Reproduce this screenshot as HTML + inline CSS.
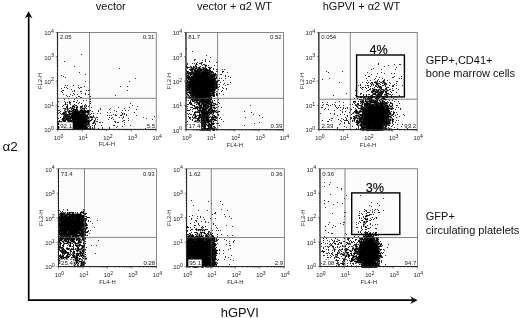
<!DOCTYPE html>
<html><head><meta charset="utf-8"><title>figure</title><style>html,body{margin:0;padding:0;background:#fff}body{width:520px;height:318px;overflow:hidden}</style></head><body><svg width="520" height="318" viewBox="0 0 520 318" style="display:block" font-family='"Liberation Sans", sans-serif'>
<rect width="520" height="318" fill="#fff"/>
<g id="P1">
<rect x="57.6" y="32.4" width="98.6" height="97.0" fill="#fcfcfc"/>
<path transform="translate(58 32.5)" d="M12 71h1M6 72h1M8 72h1M14 73h1M16 73h1M27 73h1M18 74h1M27 74h1M13 75h1M15 75h1M17 75h1M24 75h1M26 75h1M8 76h1M10 76h1M12 76h1M16 76h1M19 76h1M23 76h1M27 76h1M6 77h1M8 77h1M10 77h1M14 77h1M22 77h1M24 77h2M7 78h1M10 78h1M12 78h2M20 78h2M28 78h1M31 78h1M6 79h1M9 79h1M8 80h1M12 80h2M10 81h1M29 81h1M65 81h1M4 82h1M28 82h1M63 82h1M5 83h1M12 83h1M30 84h1M34 84h1M31 85h1M35 85h1M33 86h2M3 87h1M13 87h1M30 87h1M8 88h1M37 88h1M4 89h1M9 89h1M32 89h1M35 89h1M37 89h1M0 90h3M8 90h1M1 91h1M31 91h1M36 91h1M1 92h1M3 92h1M7 92h1M9 92h1M10 93h1M30 93h1M1 94h1M10 94h1M29 94h1M1 96h1M5 96h1M33 96h1M35 96h1M2 97h1M34 97h1" stroke="#000" stroke-width="1" fill="none" stroke-opacity="0.4"/>
<path transform="translate(58 32.5)" d="M23 22h1M6 29h1M16 34h1M61 36h1M21 40h1M27 42h1M3 43h1M5 44h1M7 45h1M77 46h1M27 49h1M71 49h1M31 50h1M7 53h1M9 53h1M15 53h1M20 53h1M62 54h1M69 54h1M8 55h1M20 55h1M22 55h2M3 56h1M9 56h1M21 56h1M13 57h1M31 57h1M4 58h2M16 58h1M28 58h1M30 58h1M69 58h1M3 59h1M14 59h1M16 59h1M22 59h2M4 60h1M15 61h1M23 61h1M5 62h1M12 62h1M16 62h1M19 62h1M27 62h1M8 63h1M14 63h1M57 63h1M9 64h1M11 64h1M20 64h2M31 64h2M18 65h1M22 65h2M10 66h1M6 67h1M16 67h1M32 67h1M19 68h1M25 68h1M28 68h1M0 69h1M6 69h1M11 69h1M15 69h2M32 69h1M7 70h1M9 70h1M18 70h1M21 70h1M11 71h1M20 71h1M32 71h1M72 71h1M9 72h1M12 72h1M16 72h1M27 72h1M5 73h1M9 73h1M17 73h2M24 73h1M26 73h1M28 73h1M74 73h1M0 74h1M4 74h1M8 74h1M22 74h1M24 74h1M26 74h1M28 74h1M30 74h1M79 74h1M16 75h1M27 75h1M33 75h1M60 75h1M71 75h1M5 76h3M11 76h1M22 76h1M28 76h1M42 76h1M52 76h1M66 76h1M7 77h1M13 77h1M17 77h1M42 77h1M51 77h1M78 77h1M0 78h2M6 78h1M9 78h1M16 78h1M18 78h1M25 78h1M27 78h1M32 78h1M40 78h1M56 78h1M64 78h1M67 78h1M70 78h1M2 79h1M8 79h1M14 79h1M23 79h1M31 79h1M40 79h1M58 79h1M1 80h1M11 80h1M15 80h1M49 80h1M52 80h1M63 80h1M76 80h1M0 81h1M2 81h1M7 81h2M22 81h1M27 81h1M33 81h1M35 81h1M39 81h1M42 81h1M64 81h1M3 82h1M6 82h1M8 82h1M13 82h1M29 82h2M32 82h1M55 82h1M57 82h1M64 82h1M66 82h1M68 82h1M10 83h2M35 83h1M49 83h1M51 83h1M53 83h1M57 83h2M62 83h1M68 83h1M78 83h1M5 84h1M32 84h1M35 84h1M65 84h1M96 84h1M2 85h1M9 85h1M11 85h1M29 85h1M36 85h1M38 85h2M51 85h1M54 85h1M61 85h1M65 85h1M85 85h1M7 86h1M13 86h1M37 86h1M64 86h1M70 86h1M88 86h1M6 87h1M10 87h3M29 87h1M33 87h2M37 87h1M39 87h1M50 87h1M55 87h1M94 87h1M1 88h1M10 88h1M14 88h1M33 88h1M65 88h2M70 88h1M0 89h1M3 89h1M38 89h2M56 89h2M64 89h1M31 90h1M41 90h2M44 90h1M57 90h1M59 90h2M66 90h1M2 91h1M4 91h1M11 91h1M29 91h1M34 91h2M37 91h1M2 92h1M4 92h2M12 92h1M37 92h1M66 92h1M9 93h1M28 93h2M31 93h1M34 93h1M36 93h1M43 93h1M55 93h2M72 93h1M5 94h1M12 94h1M30 94h1M32 94h1M36 94h1M59 94h1M64 94h1M2 95h1M6 95h1M32 95h1M34 95h1M36 95h1M44 95h1M51 95h1M58 95h1M0 96h1M6 96h1M30 96h1M34 96h1M36 96h1M40 96h1M44 96h1M51 96h1M87 96h1M4 97h1M35 97h1M37 97h1M39 97h2" stroke="#000" stroke-width="1" fill="none" stroke-opacity="0.8"/>
<path transform="translate(58 32.5)" d="M26 54h1M6 55h1M27 61h1M30 62h1M11 70h1M7 71h1M9 74h1M14 74h1M16 74h1M19 74h1M23 74h1M8 75h2M12 75h1M14 75h1M22 75h1M13 76h3M18 76h1M25 76h1M19 77h1M23 77h1M26 77h1M15 78h1M29 78h1M10 79h1M12 79h1M15 79h1M18 79h4M30 79h1M34 79h1M5 80h3M22 80h1M28 80h1M30 80h1M4 81h1M6 81h1M12 81h2M21 81h1M23 81h2M30 81h1M66 81h1M9 82h2M26 82h2M6 83h2M13 83h1M18 83h1M26 83h1M28 83h2M6 84h2M12 84h1M26 84h1M33 84h1M5 85h3M15 85h1M28 85h1M32 85h1M0 86h1M4 86h1M8 86h1M28 86h3M53 86h1M5 87h1M7 87h1M4 88h1M9 88h1M17 88h1M27 88h1M29 88h1M31 88h2M2 89h1M5 89h3M29 89h1M3 90h1M9 90h1M29 90h1M35 90h2M3 91h1M7 91h1M9 91h1M27 91h2M10 92h1M26 92h2M29 92h1M31 92h1M8 93h1M0 94h1M28 94h1M9 95h1M12 95h1M19 95h1M26 95h1M29 95h1M9 96h1M29 96h1M31 96h2M3 97h1M32 97h1" stroke="#000" stroke-width="1" fill="none" stroke-opacity="0.9"/>
<path transform="translate(58 32.5)" d="M12 70h1M23 71h1M7 72h1M15 73h1M15 74h1M18 75h2M23 75h1M9 76h1M24 76h1M26 76h1M9 77h1M15 77h2M18 77h1M11 78h1M14 78h1M17 78h1M19 78h1M22 78h3M26 78h1M30 78h1M7 79h1M11 79h1M13 79h1M16 79h2M22 79h1M24 79h6M10 80h1M14 80h1M16 80h6M23 80h5M29 80h1M5 81h1M11 81h1M14 81h7M25 81h2M5 82h1M7 82h1M11 82h2M14 82h12M8 83h2M14 83h4M19 83h7M27 83h1M63 83h1M8 84h4M13 84h13M27 84h3M8 85h1M10 85h1M12 85h3M16 85h12M30 85h1M33 85h2M5 86h2M9 86h4M14 86h14M4 87h1M8 87h2M14 87h15M5 88h3M11 88h3M15 88h2M18 88h9M28 88h1M30 88h1M36 88h1M1 89h1M10 89h19M30 89h2M36 89h1M10 90h19M30 90h1M0 91h1M8 91h1M10 91h1M12 91h15M30 91h1M0 92h1M8 92h1M11 92h1M13 92h13M28 92h1M30 92h1M11 93h17M11 94h1M13 94h15M0 95h2M10 95h2M13 95h6M20 95h6M27 95h2M7 96h2M10 96h19M0 97h2M5 97h27M33 97h1" stroke="#000" stroke-width="1" fill="none" stroke-opacity="1"/>
<rect x="57.6" y="32.4" width="98.6" height="97.0" fill="none" stroke="#555" stroke-width=".7"/>
<path d="M89.5 32.4V129.4M57.6 98.3H156.2" stroke="#555" stroke-width=".7" fill="none"/>
<path d="M57.60 129.4v2M57.6 129.40h-2M65.02 129.4v1M57.6 122.10h-1M69.36 129.4v1M57.6 117.83h-1M72.44 129.4v1M57.6 114.80h-1M74.83 129.4v1M57.6 112.45h-1M76.78 129.4v1M57.6 110.53h-1M78.43 129.4v1M57.6 108.91h-1M79.86 129.4v1M57.6 107.50h-1M81.12 129.4v1M57.6 106.26h-1M82.25 129.4v2M57.6 105.15h-2M89.67 129.4v1M57.6 97.85h-1M94.01 129.4v1M57.6 93.58h-1M97.09 129.4v1M57.6 90.55h-1M99.48 129.4v1M57.6 88.20h-1M101.43 129.4v1M57.6 86.28h-1M103.08 129.4v1M57.6 84.66h-1M104.51 129.4v1M57.6 83.25h-1M105.77 129.4v1M57.6 82.01h-1M106.90 129.4v2M57.6 80.90h-2M114.32 129.4v1M57.6 73.60h-1M118.66 129.4v1M57.6 69.33h-1M121.74 129.4v1M57.6 66.30h-1M124.13 129.4v1M57.6 63.95h-1M126.08 129.4v1M57.6 62.03h-1M127.73 129.4v1M57.6 60.41h-1M129.16 129.4v1M57.6 59.00h-1M130.42 129.4v1M57.6 57.76h-1M131.55 129.4v2M57.6 56.65h-2M138.97 129.4v1M57.6 49.35h-1M143.31 129.4v1M57.6 45.08h-1M146.39 129.4v1M57.6 42.05h-1M148.78 129.4v1M57.6 39.70h-1M150.73 129.4v1M57.6 37.78h-1M152.38 129.4v1M57.6 36.16h-1M153.81 129.4v1M57.6 34.75h-1M155.07 129.4v1M57.6 33.51h-1M156.20 129.4v2M57.6 32.40h-2" stroke="#333" stroke-width=".6" fill="none"/>
<path d="M57.6 32.4V129.4H156.2" stroke="#222" stroke-width="1" fill="none"/>
<text x="58.6" y="140.1" font-size="5.8" text-anchor="middle" fill="#222">10<tspan dy="-2.3" font-size="5.10">0</tspan></text>
<text x="53.9" y="132.2" font-size="6.0" text-anchor="end" fill="#222">10<tspan dy="-2.3" font-size="5.28">0</tspan></text>
<text x="83.2" y="140.1" font-size="5.8" text-anchor="middle" fill="#222">10<tspan dy="-2.3" font-size="5.10">1</tspan></text>
<text x="53.9" y="108.0" font-size="6.0" text-anchor="end" fill="#222">10<tspan dy="-2.3" font-size="5.28">1</tspan></text>
<text x="107.9" y="140.1" font-size="5.8" text-anchor="middle" fill="#222">10<tspan dy="-2.3" font-size="5.10">2</tspan></text>
<text x="53.9" y="83.7" font-size="6.0" text-anchor="end" fill="#222">10<tspan dy="-2.3" font-size="5.28">2</tspan></text>
<text x="132.5" y="140.1" font-size="5.8" text-anchor="middle" fill="#222">10<tspan dy="-2.3" font-size="5.10">3</tspan></text>
<text x="53.9" y="59.5" font-size="6.0" text-anchor="end" fill="#222">10<tspan dy="-2.3" font-size="5.28">3</tspan></text>
<text x="157.2" y="140.1" font-size="5.8" text-anchor="middle" fill="#222">10<tspan dy="-2.3" font-size="5.10">4</tspan></text>
<text x="53.9" y="35.2" font-size="6.0" text-anchor="end" fill="#222">10<tspan dy="-2.3" font-size="5.28">4</tspan></text>
<text x="106.9" y="146.4" font-size="5.9" text-anchor="middle" fill="#2a2a2a">FL4-H</text>
<text transform="translate(42.3 80.9) rotate(-90)" font-size="5.9" text-anchor="middle" fill="#2a2a2a">FL2-H</text>
<text x="59.9" y="39.4" font-size="6.0" fill="#222">2.05</text>
<text x="154.4" y="39.4" font-size="6.0" fill="#222" text-anchor="end">0.31</text>
<rect x="59.4" y="122.3" width="13.3" height="6.5" fill="#fff"/>
<text x="60.2" y="128.0" font-size="6.1" fill="#222">92.1</text>
<text x="155.0" y="127.9" font-size="6.0" fill="#222" text-anchor="end">5.5</text>
</g>
<g id="P2">
<rect x="186.0" y="32.4" width="97.5" height="97.3" fill="#fcfcfc"/>
<path transform="translate(186 32.5)" d="M9 32h1M11 32h1M19 32h1M10 33h1M18 33h1M1 34h1M5 34h1M8 34h1M13 34h1M20 34h1M4 35h1M6 35h1M9 35h1M11 35h1M14 35h1M18 35h1M24 35h1M4 36h1M8 36h1M11 36h1M15 36h2M10 37h1M22 37h1M24 37h1M7 38h1M31 38h1M7 39h1M26 41h1M28 41h1M1 42h1M3 42h1M3 43h1M5 43h2M30 43h1M4 44h1M29 44h1M29 45h1M1 47h1M2 48h1M30 48h1M0 49h1M32 49h1M31 51h1M32 52h1M29 58h1M1 59h2M29 60h1M1 61h1M28 61h1M0 62h1M2 62h1M1 63h1M3 63h1M1 64h2M4 64h1M25 64h2M1 65h1M4 67h1M5 68h1M25 68h1M9 69h1M12 69h1M25 69h1M5 70h1M8 70h1M27 70h1M10 71h1M14 71h1M26 71h1M6 72h1M11 72h1M14 72h1M26 72h3M12 73h1M16 73h1M23 73h1M9 74h1M12 74h1M16 74h1M26 74h3M8 75h1M23 75h1M26 75h1M29 75h1M12 76h1M22 76h1M26 76h2M9 77h1M12 77h1M15 77h1M21 77h1M28 77h1M11 78h1M21 78h1M29 78h1M10 79h1M30 79h2M14 80h1M28 80h2M32 80h1M9 81h1M14 81h1M26 81h1M31 81h1M24 82h2M27 82h1M8 83h1M10 83h1M23 83h1M26 83h1M8 84h1M12 84h1M23 84h1M25 84h1M27 84h1M30 84h1M7 85h1M10 85h1M24 85h1M4 86h1M8 86h1M14 86h1M23 86h1M28 86h2M13 87h2M23 87h1M10 88h1M14 88h1M26 88h2M11 89h2M14 89h1M26 89h1M9 90h2M13 90h1M23 90h2M26 90h2M11 91h1M20 91h2M24 91h1M7 92h1M9 92h2M12 92h2M21 92h1M8 93h1M10 93h1M14 93h1M20 93h1M26 93h1M7 94h1M11 94h1M21 94h1M26 94h1M8 95h1M11 95h1M13 95h1M16 95h1M26 95h2M7 96h1M10 96h1M29 96h2M9 97h1M10 98h1M13 98h3M19 98h1M24 98h1M26 98h1M30 98h1" stroke="#000" stroke-width="1" fill="none" stroke-opacity="0.4"/>
<path transform="translate(186 32.5)" d="M0 16h1M6 19h1M20 23h1M24 25h1M8 27h2M19 27h1M8 28h1M16 28h1M19 28h1M19 29h1M23 29h1M11 30h1M15 30h2M30 30h1M1 31h1M6 31h1M8 31h1M13 31h2M1 32h1M15 32h1M17 32h2M0 33h1M9 33h1M16 33h1M22 33h1M28 33h1M7 34h1M14 34h1M2 35h2M8 35h1M16 35h2M22 35h1M25 35h1M1 36h1M12 36h1M14 36h1M24 36h1M27 36h1M3 37h1M9 37h1M27 37h1M30 37h1M36 37h1M38 37h1M0 38h1M12 38h1M16 38h1M2 39h1M5 39h1M15 39h1M22 39h1M30 39h1M2 40h1M4 40h1M8 40h1M24 40h1M27 40h1M36 40h1M41 40h1M1 41h1M6 41h1M24 41h2M24 42h1M30 42h1M34 42h2M1 43h2M23 43h1M31 43h1M39 43h1M30 44h1M39 44h1M42 44h1M27 45h1M44 45h1M1 46h1M3 46h1M33 46h1M35 46h1M39 46h1M3 48h1M32 48h2M37 48h1M2 49h1M28 49h1M34 50h1M44 50h1M1 51h2M38 51h1M1 52h1M29 52h1M33 52h1M37 52h1M41 52h2M31 53h1M39 53h1M1 54h1M31 54h1M33 54h1M36 55h1M1 56h1M4 56h1M29 56h1M31 56h1M37 56h1M40 56h1M32 57h1M40 57h1M3 58h2M36 58h1M28 59h1M30 59h1M35 59h1M25 60h1M3 61h1M30 61h2M33 61h1M25 62h2M37 62h1M30 63h2M8 64h1M28 64h1M2 65h1M8 65h1M21 65h1M23 65h1M5 66h1M8 66h1M28 66h1M13 67h1M18 67h1M23 67h1M32 67h1M0 68h1M2 68h1M4 68h1M7 68h1M14 68h1M24 68h1M26 68h1M28 68h1M11 69h1M9 70h1M12 70h1M14 70h2M32 70h1M8 71h1M18 71h1M24 71h1M27 71h3M33 71h1M1 72h2M10 72h1M16 72h1M21 72h1M30 72h2M6 73h1M22 73h1M64 73h1M0 74h2M8 74h1M10 74h1M20 74h1M32 74h1M4 75h3M13 75h1M16 75h1M24 75h1M30 75h1M35 75h1M1 76h1M7 76h1M10 76h1M15 76h1M18 76h1M29 76h1M4 77h1M6 77h1M13 77h1M14 78h1M19 78h1M24 78h1M30 78h1M6 79h1M9 79h1M11 79h2M19 79h1M25 79h1M32 79h1M58 79h1M10 80h1M26 80h1M65 80h1M1 81h1M3 81h1M15 81h1M2 82h1M4 82h2M7 82h1M9 82h1M15 82h1M22 82h1M26 82h1M67 82h1M7 83h1M11 83h1M15 83h1M27 83h2M32 83h1M73 83h1M2 84h1M6 84h1M14 84h1M24 84h1M6 85h1M31 85h1M34 85h1M59 85h1M76 85h1M3 86h1M7 86h1M9 86h2M18 86h1M25 86h1M30 86h1M33 86h1M4 87h1M6 87h1M16 87h1M19 87h1M6 88h1M9 88h1M23 88h1M30 88h1M1 89h1M10 89h1M13 89h1M17 89h1M20 89h1M37 89h1M11 90h1M16 90h1M73 90h1M6 91h2M28 91h1M30 91h3M68 91h1M1 92h1M15 92h1M17 92h1M22 92h1M3 93h1M9 93h1M13 93h1M23 93h1M33 93h1M58 93h1M4 94h1M6 94h1M8 94h1M17 94h1M27 94h2M7 95h1M19 95h1M23 95h1M28 95h2M8 96h1M14 96h1M16 96h1M24 96h1M28 96h1M33 97h1M16 98h3M20 98h4M27 98h2" stroke="#000" stroke-width="1" fill="none" stroke-opacity="0.8"/>
<path transform="translate(186 32.5)" d="M10 31h1M15 31h1M4 34h1M9 34h2M19 34h1M0 35h2M7 35h1M12 35h1M19 35h1M5 36h1M9 36h1M17 36h1M19 36h2M23 36h1M6 37h2M11 37h1M13 37h1M16 37h1M18 37h2M21 37h1M23 37h1M31 37h1M4 38h2M8 38h1M10 38h1M13 38h1M15 38h1M17 38h1M22 38h3M0 39h2M6 39h1M8 39h1M14 39h1M16 39h1M20 39h2M23 39h1M25 39h2M31 39h1M36 39h1M0 40h1M6 40h1M11 40h1M14 40h1M26 40h1M0 41h1M3 41h3M7 41h1M14 41h1M27 41h1M2 42h1M6 42h2M26 42h1M29 42h1M4 43h1M22 43h1M26 43h2M29 43h1M1 44h3M4 45h1M28 45h1M4 46h1M8 46h1M29 46h2M0 47h1M3 47h1M29 47h1M0 48h2M4 48h1M29 48h1M31 48h1M4 49h1M29 49h2M1 50h1M29 50h2M29 51h2M2 52h1M0 53h1M28 53h2M2 54h1M27 54h1M29 54h1M1 55h1M29 55h1M32 55h1M2 56h1M0 57h1M29 57h1M1 58h2M5 58h1M4 59h2M27 59h1M1 60h2M5 60h1M24 60h1M5 61h1M25 61h1M4 62h3M27 62h2M30 62h2M4 63h2M9 63h1M28 63h1M3 64h1M5 64h2M27 64h1M3 65h1M5 65h2M19 65h2M24 65h2M3 66h2M7 66h1M14 66h1M24 66h2M6 67h2M10 67h2M15 67h1M19 67h1M25 67h1M9 68h1M20 68h1M23 68h1M4 69h1M6 69h1M8 69h1M10 69h1M13 69h1M17 69h1M23 69h1M26 69h1M3 70h1M10 70h1M16 70h1M18 70h1M25 70h1M3 71h3M15 71h1M17 71h1M19 71h2M23 71h1M25 71h1M4 72h1M12 72h2M15 72h1M20 72h1M22 72h3M29 72h1M7 73h1M15 73h1M24 73h2M11 74h1M13 74h3M18 74h1M21 74h1M23 74h1M25 74h1M9 75h3M18 75h5M25 75h1M8 76h1M14 76h1M17 76h1M20 76h2M28 76h1M11 77h1M14 77h1M16 77h1M19 77h1M22 77h1M24 77h3M1 78h2M20 78h1M27 78h1M13 79h3M17 79h1M21 79h3M27 79h2M33 79h1M9 80h1M11 80h2M21 80h1M24 80h2M8 81h1M13 81h1M23 81h1M8 82h1M13 82h1M19 82h1M32 82h1M9 83h1M12 83h1M17 83h1M19 83h4M10 84h1M13 84h1M16 84h2M19 84h1M22 84h1M28 84h1M3 85h1M9 85h1M12 85h6M19 85h1M22 85h1M26 85h1M28 85h1M30 85h1M11 86h1M13 86h1M15 86h1M22 86h1M26 86h2M11 87h1M20 87h1M24 87h1M28 87h2M35 87h1M11 88h1M13 88h1M19 88h1M24 88h2M28 88h2M9 89h1M15 89h2M19 89h1M24 89h1M27 89h1M12 90h1M19 90h2M12 91h1M14 91h1M18 91h1M22 91h1M25 91h2M11 92h1M16 92h1M19 92h1M24 92h1M26 92h2M6 93h1M12 93h1M16 93h2M19 93h1M25 93h1M9 94h2M14 94h3M23 94h2M9 95h2M15 95h1M17 95h1M22 95h1M12 96h2M15 96h1M17 96h1M20 96h1M25 96h3M8 97h1M12 97h1M29 97h1M31 97h1" stroke="#000" stroke-width="1" fill="none" stroke-opacity="0.9"/>
<path transform="translate(186 32.5)" d="M10 32h1M19 33h2M0 34h1M5 35h1M10 35h1M13 35h1M23 35h1M6 36h2M10 36h1M13 36h1M18 36h1M4 37h2M8 37h1M12 37h1M14 37h2M17 37h1M20 37h1M6 38h1M9 38h1M11 38h1M14 38h1M18 38h4M9 39h5M17 39h3M24 39h1M37 39h1M1 40h1M3 40h1M5 40h1M7 40h1M9 40h2M12 40h2M15 40h9M25 40h1M2 41h1M8 41h6M15 41h9M29 41h1M0 42h1M4 42h2M8 42h16M25 42h1M27 42h2M0 43h1M7 43h15M24 43h2M28 43h1M0 44h1M5 44h24M0 45h4M5 45h22M30 45h1M0 46h1M2 46h1M5 46h3M9 46h20M2 47h1M4 47h25M5 48h24M1 49h1M3 49h1M5 49h23M31 49h1M0 50h1M2 50h27M31 50h1M0 51h1M3 51h26M0 52h1M3 52h26M30 52h2M1 53h27M30 53h1M0 54h1M3 54h24M28 54h1M30 54h1M0 55h1M2 55h27M30 55h2M0 56h1M3 56h1M5 56h24M30 56h1M1 57h28M0 58h1M6 58h23M0 59h1M3 59h1M6 59h21M0 60h1M3 60h2M6 60h18M26 60h3M0 61h1M4 61h1M6 61h19M26 61h2M1 62h1M7 62h18M2 63h1M6 63h3M10 63h18M0 64h1M7 64h1M9 64h16M0 65h1M4 65h1M7 65h1M9 65h10M22 65h1M6 66h1M9 66h5M15 66h9M5 67h1M8 67h2M12 67h1M14 67h1M16 67h2M20 67h3M24 67h1M6 68h1M8 68h1M10 68h4M15 68h5M21 68h2M7 69h1M14 69h3M18 69h5M24 69h1M4 70h1M11 70h1M13 70h1M17 70h1M19 70h6M26 70h1M11 71h3M16 71h1M21 71h2M5 72h1M17 72h3M25 72h1M8 73h1M13 73h2M17 73h5M26 73h3M17 74h1M19 74h1M22 74h1M24 74h1M12 75h1M14 75h2M17 75h1M27 75h2M9 76h1M11 76h1M13 76h1M16 76h1M19 76h1M23 76h3M17 77h2M20 77h1M23 77h1M3 78h1M12 78h2M15 78h4M22 78h2M25 78h2M28 78h1M16 79h1M18 79h1M20 79h1M24 79h1M26 79h1M29 79h1M8 80h1M13 80h1M15 80h6M22 80h2M27 80h1M30 80h2M16 81h7M24 81h2M27 81h1M14 82h1M16 82h3M20 82h2M23 82h1M31 82h1M13 83h2M16 83h1M18 83h1M9 84h1M15 84h1M18 84h1M20 84h2M26 84h1M29 84h1M4 85h1M8 85h1M18 85h1M20 85h2M23 85h1M25 85h1M27 85h1M29 85h1M12 86h1M16 86h2M19 86h3M12 87h1M15 87h1M17 87h2M21 87h2M25 87h3M12 88h1M15 88h4M20 88h3M8 89h1M18 89h1M21 89h3M25 89h1M14 90h2M17 90h2M21 90h2M25 90h1M9 91h2M13 91h1M15 91h3M19 91h1M23 91h1M27 91h1M14 92h1M18 92h1M20 92h1M23 92h1M25 92h1M7 93h1M11 93h1M15 93h1M18 93h1M21 93h2M24 93h1M18 94h2M22 94h1M25 94h1M14 95h1M18 95h1M24 95h2M11 96h1M18 96h2M21 96h3M7 97h1M10 97h2M13 97h16M30 97h1" stroke="#000" stroke-width="1" fill="none" stroke-opacity="1"/>
<rect x="186.0" y="32.4" width="97.5" height="97.3" fill="none" stroke="#555" stroke-width=".7"/>
<path d="M217.6 32.4V129.7M186.0 98.3H283.5" stroke="#555" stroke-width=".7" fill="none"/>
<path d="M186.00 129.7v2M186.0 129.70h-2M193.34 129.7v1M186.0 122.38h-1M197.63 129.7v1M186.0 118.09h-1M200.68 129.7v1M186.0 115.05h-1M203.04 129.7v1M186.0 112.70h-1M204.97 129.7v1M186.0 110.77h-1M206.60 129.7v1M186.0 109.14h-1M208.01 129.7v1M186.0 107.73h-1M209.26 129.7v1M186.0 106.49h-1M210.38 129.7v2M186.0 105.38h-2M217.71 129.7v1M186.0 98.05h-1M222.00 129.7v1M186.0 93.77h-1M225.05 129.7v1M186.0 90.73h-1M227.41 129.7v1M186.0 88.37h-1M229.34 129.7v1M186.0 86.45h-1M230.97 129.7v1M186.0 84.82h-1M232.39 129.7v1M186.0 83.41h-1M233.63 129.7v1M186.0 82.16h-1M234.75 129.7v2M186.0 81.05h-2M242.09 129.7v1M186.0 73.73h-1M246.38 129.7v1M186.0 69.44h-1M249.43 129.7v1M186.0 66.40h-1M251.79 129.7v1M186.0 64.05h-1M253.72 129.7v1M186.0 62.12h-1M255.35 129.7v1M186.0 60.49h-1M256.76 129.7v1M186.0 59.08h-1M258.01 129.7v1M186.0 57.84h-1M259.12 129.7v2M186.0 56.72h-2M266.46 129.7v1M186.0 49.40h-1M270.75 129.7v1M186.0 45.12h-1M273.80 129.7v1M186.0 42.08h-1M276.16 129.7v1M186.0 39.72h-1M278.09 129.7v1M186.0 37.80h-1M279.72 129.7v1M186.0 36.17h-1M281.14 129.7v1M186.0 34.76h-1M282.38 129.7v1M186.0 33.51h-1M283.50 129.7v2M186.0 32.40h-2" stroke="#333" stroke-width=".6" fill="none"/>
<path d="M186.0 32.4V129.7H283.5" stroke="#222" stroke-width="1" fill="none"/>
<text x="187.0" y="140.4" font-size="5.8" text-anchor="middle" fill="#222">10<tspan dy="-2.3" font-size="5.10">0</tspan></text>
<text x="182.3" y="132.5" font-size="6.0" text-anchor="end" fill="#222">10<tspan dy="-2.3" font-size="5.28">0</tspan></text>
<text x="211.4" y="140.4" font-size="5.8" text-anchor="middle" fill="#222">10<tspan dy="-2.3" font-size="5.10">1</tspan></text>
<text x="182.3" y="108.2" font-size="6.0" text-anchor="end" fill="#222">10<tspan dy="-2.3" font-size="5.28">1</tspan></text>
<text x="235.8" y="140.4" font-size="5.8" text-anchor="middle" fill="#222">10<tspan dy="-2.3" font-size="5.10">2</tspan></text>
<text x="182.3" y="83.8" font-size="6.0" text-anchor="end" fill="#222">10<tspan dy="-2.3" font-size="5.28">2</tspan></text>
<text x="260.1" y="140.4" font-size="5.8" text-anchor="middle" fill="#222">10<tspan dy="-2.3" font-size="5.10">3</tspan></text>
<text x="182.3" y="59.5" font-size="6.0" text-anchor="end" fill="#222">10<tspan dy="-2.3" font-size="5.28">3</tspan></text>
<text x="284.5" y="140.4" font-size="5.8" text-anchor="middle" fill="#222">10<tspan dy="-2.3" font-size="5.10">4</tspan></text>
<text x="182.3" y="35.2" font-size="6.0" text-anchor="end" fill="#222">10<tspan dy="-2.3" font-size="5.28">4</tspan></text>
<text x="234.8" y="146.7" font-size="5.9" text-anchor="middle" fill="#2a2a2a">FL4-H</text>
<text transform="translate(170.7 81.0) rotate(-90)" font-size="5.9" text-anchor="middle" fill="#2a2a2a">FL2-H</text>
<text x="188.3" y="39.4" font-size="6.0" fill="#222">81.7</text>
<text x="281.7" y="39.4" font-size="6.0" fill="#222" text-anchor="end">0.52</text>
<rect x="187.8" y="122.6" width="13.3" height="6.5" fill="#fff"/>
<text x="188.6" y="128.3" font-size="6.1" fill="#222">17.4</text>
<text x="282.3" y="128.2" font-size="6.0" fill="#222" text-anchor="end">0.39</text>
</g>
<g id="P3">
<rect x="318.9" y="32.4" width="98.3" height="97.2" fill="#fcfcfc"/>
<path transform="translate(319 32.5)" d="M57 49h1M65 49h1M58 50h1M63 50h1M66 50h1M52 51h1M56 51h1M64 51h1M53 52h1M59 52h1M57 53h2M60 53h1M65 53h1M49 54h1M58 54h1M62 54h1M59 55h1M54 56h2M60 56h1M53 57h1M58 57h1M61 57h1M65 57h1M68 57h1M56 58h1M60 58h1M62 58h2M66 58h2M60 59h1M65 59h1M68 59h1M54 60h2M53 61h1M57 61h2M66 61h1M57 62h1M63 62h1M68 62h2M51 63h1M56 63h1M65 63h2M42 64h1M50 64h1M54 64h1M61 64h1M67 64h2M44 65h1M46 65h1M50 65h1M54 65h1M56 65h1M63 65h1M65 65h1M45 66h1M47 66h1M53 66h1M60 66h1M66 66h1M43 67h1M54 67h1M56 67h1M59 67h2M63 67h1M41 68h2M47 68h3M59 68h1M61 68h2M64 68h1M66 68h1M45 69h1M60 69h1M62 69h1M35 70h1M41 70h1M45 70h2M49 70h1M60 70h1M68 70h1M72 70h1M42 71h1M44 71h1M52 71h3M37 72h1M42 72h1M44 72h1M68 72h1M38 73h1M43 73h1M69 73h1M71 73h2M41 74h1M44 74h1M70 74h1M73 74h1M39 75h1M41 75h1M70 75h3M31 77h1M36 77h1M41 77h1M70 77h2M73 77h1M38 78h1M40 78h1M42 78h1M39 79h1M71 79h1M35 80h1M41 80h2M36 81h1M40 81h1M72 81h1M75 81h1M37 82h3M72 82h1M40 83h1M70 83h2M36 84h1M38 84h1M41 84h1M72 84h1M34 85h1M38 85h2M70 85h1M37 86h1M70 86h3M34 87h1M36 87h1M38 87h2M72 87h1M34 88h1M39 88h1M72 88h1M74 88h1M71 89h1M36 90h1M71 90h1M37 91h1M40 91h2M39 92h2M70 92h1M40 93h1M68 93h1M41 94h1M65 94h1M67 95h1M68 96h2M71 96h2M42 98h1M45 98h2M64 98h2M67 98h1M69 98h2M72 98h1" stroke="#000" stroke-width="1" fill="none" stroke-opacity="0.4"/>
<path transform="translate(319 32.5)" d="M59 31h1M59 32h1M75 32h1M80 32h2M69 33h1M65 34h1M77 35h1M54 36h1M52 37h1M62 37h1M76 37h1M7 39h1M23 39h1M9 40h1M48 40h1M62 40h1M58 41h1M65 41h1M72 41h1M75 41h1M52 42h1M46 43h1M49 44h2M57 44h1M75 44h1M82 44h1M60 45h1M73 45h2M10 46h1M47 46h1M56 46h1M63 46h1M80 46h1M82 46h1M3 47h1M55 47h1M59 47h1M65 47h1M48 48h1M51 48h1M58 48h1M64 48h2M68 48h1M56 49h1M58 49h1M60 49h1M63 49h1M77 49h2M20 50h1M43 50h1M47 50h1M49 50h1M52 50h2M55 50h1M61 50h2M70 50h1M48 51h1M51 51h1M53 51h1M59 51h2M63 51h1M67 51h1M71 51h1M77 51h1M41 52h1M52 52h1M54 52h1M61 52h1M67 52h1M75 52h1M39 53h1M41 53h1M46 53h1M49 53h1M52 53h1M54 53h1M56 53h1M63 53h2M66 53h1M70 53h1M73 53h2M77 53h1M83 53h1M85 53h1M51 54h1M56 54h2M66 54h1M73 54h2M41 55h1M43 55h2M55 55h1M58 55h1M67 55h3M42 56h1M47 56h1M51 56h1M66 56h1M73 56h1M77 56h1M43 57h1M50 57h2M60 57h1M62 57h3M66 57h1M70 57h2M79 57h1M36 58h1M48 58h2M53 58h1M61 58h1M65 58h1M69 58h1M73 58h2M47 59h1M57 59h1M71 59h1M56 60h1M64 60h1M72 60h1M77 60h1M27 61h1M41 61h2M60 61h1M41 62h1M44 62h1M47 62h1M49 62h2M53 62h1M70 62h2M73 62h1M14 63h1M36 63h1M44 63h1M60 63h1M72 63h1M80 63h1M37 64h2M43 64h1M47 64h1M49 64h1M55 64h1M62 64h2M66 64h1M72 64h1M76 64h1M42 65h1M52 65h1M55 65h1M67 65h2M72 65h1M35 66h1M38 66h1M44 66h1M46 66h1M62 66h1M74 66h1M42 67h1M44 67h1M61 67h1M76 67h2M55 68h1M57 68h1M70 68h1M73 68h1M20 69h1M39 69h1M53 69h1M65 69h1M68 69h1M75 69h1M79 69h1M3 70h1M8 70h1M16 70h1M24 70h1M34 70h1M36 70h1M61 70h1M64 70h1M69 70h1M35 71h1M38 71h2M41 71h1M58 71h1M65 71h1M68 71h1M73 71h1M80 71h1M4 72h1M7 72h2M13 72h1M15 72h1M31 72h1M33 72h1M36 72h1M52 72h1M55 72h1M59 72h1M64 72h1M66 72h2M70 72h1M3 73h1M11 73h1M16 73h1M20 73h1M24 73h1M36 73h1M39 73h3M49 73h1M56 73h1M60 73h1M64 73h2M77 73h2M16 74h1M37 74h2M46 74h1M2 75h2M17 75h1M19 75h1M21 75h1M24 75h1M28 75h1M38 75h1M43 75h1M66 75h1M73 75h1M77 75h1M79 75h1M6 76h1M18 76h1M24 76h1M26 76h1M28 76h1M31 76h1M36 76h1M74 76h1M81 76h1M5 77h1M9 77h1M23 77h1M37 77h1M48 77h1M65 77h1M76 77h1M15 78h1M21 78h1M31 78h1M23 79h1M26 79h1M72 79h1M74 79h1M23 80h1M30 80h1M34 80h1M44 80h1M77 80h1M1 81h1M15 81h1M33 81h2M69 81h1M15 82h1M21 82h1M25 82h1M32 82h1M73 82h2M78 82h1M84 82h1M18 83h1M36 83h1M67 83h1M72 83h2M76 83h1M85 83h1M28 84h1M34 84h1M42 84h1M44 84h1M74 84h1M80 84h1M26 85h1M31 85h2M40 85h1M44 85h1M72 85h1M77 85h1M12 86h2M22 86h1M27 86h1M32 86h1M34 86h1M39 86h1M69 86h1M73 86h1M10 87h1M24 87h1M27 87h1M31 87h1M3 88h1M12 88h1M21 88h1M25 88h2M28 88h1M37 88h1M43 88h1M66 88h1M68 88h1M70 88h1M77 88h1M79 88h1M8 89h2M22 89h1M29 89h1M33 89h1M35 89h1M43 89h1M74 89h1M29 90h1M41 90h1M69 90h1M73 90h1M76 90h1M3 91h1M21 91h1M25 91h1M29 91h2M71 91h1M73 91h1M2 92h1M8 92h1M20 92h1M37 92h1M66 92h1M74 92h1M78 92h1M7 93h1M13 93h1M38 93h2M43 93h1M69 93h2M73 93h1M11 94h1M25 94h1M33 94h1M39 94h1M72 94h1M82 94h1M4 95h1M14 95h1M18 95h1M27 95h1M39 95h1M64 95h2M69 95h1M75 95h1M13 96h1M18 96h1M37 96h1M39 96h1M41 96h2M45 96h2M64 96h2M78 96h1M88 96h1M24 97h1M27 97h1M33 97h2M39 97h1M41 97h1M43 98h2M47 98h5M60 98h4" stroke="#000" stroke-width="1" fill="none" stroke-opacity="0.8"/>
<path transform="translate(319 32.5)" d="M64 49h1M56 50h2M64 50h1M58 51h1M65 51h2M57 52h2M65 52h2M48 53h1M59 54h2M46 55h1M49 55h1M61 55h1M53 56h1M61 56h2M67 56h1M54 57h1M56 57h1M59 57h1M67 57h1M55 58h1M57 58h2M64 58h1M52 59h1M55 59h1M59 59h1M61 59h4M66 59h1M52 60h1M58 60h2M61 60h1M63 60h1M66 60h2M54 61h3M59 61h1M61 61h3M67 61h2M54 62h2M58 62h1M61 62h1M65 62h1M67 62h1M52 63h2M57 63h3M61 63h2M67 63h1M52 64h1M57 64h3M64 64h1M41 65h1M49 65h1M51 65h1M58 65h1M64 65h1M48 66h1M50 66h1M56 66h1M58 66h1M63 66h1M40 67h2M46 67h1M48 67h1M50 67h2M53 67h1M62 67h1M64 67h2M67 67h1M69 67h1M43 68h2M46 68h1M51 68h1M53 68h1M58 68h1M34 69h1M36 69h1M42 69h1M44 69h1M47 69h4M54 69h1M57 69h2M63 69h2M42 70h2M47 70h2M50 70h1M55 70h1M57 70h3M62 70h1M65 70h2M43 71h1M45 71h3M50 71h2M55 71h2M59 71h1M67 71h1M71 71h2M38 72h2M45 72h1M51 72h1M58 72h1M73 72h1M9 73h1M37 73h1M42 73h1M45 73h2M54 73h2M61 73h1M43 74h1M45 74h1M48 74h1M65 74h4M72 74h1M34 75h1M42 75h1M45 75h1M47 75h1M65 75h1M69 75h1M40 76h2M44 76h2M47 76h1M66 76h1M69 76h1M71 76h3M32 77h1M42 77h1M81 77h1M36 78h1M41 78h1M43 78h1M45 78h1M70 78h1M36 79h2M42 79h2M67 79h1M70 79h1M38 80h3M69 80h3M74 80h1M11 81h1M37 81h2M43 81h1M63 81h1M74 81h1M40 82h1M42 82h3M66 82h1M70 82h2M28 83h1M38 83h2M42 83h1M45 83h1M35 84h1M37 84h1M39 84h1M70 84h2M36 85h2M42 85h1M31 86h1M35 86h2M41 86h3M19 87h1M40 87h1M42 87h2M65 87h1M68 87h3M73 87h1M27 88h1M33 88h1M35 88h1M38 88h1M41 88h2M69 88h1M71 88h1M37 89h1M39 89h3M68 89h1M73 89h1M25 90h1M39 90h1M44 90h1M46 90h1M64 90h1M68 90h1M38 91h2M43 91h1M69 91h1M38 92h1M42 92h2M64 92h2M68 92h2M83 92h1M44 93h3M63 93h5M42 94h1M44 94h3M64 94h1M66 94h1M42 95h1M52 95h1M62 95h1M66 95h1M48 96h1M66 96h2M70 96h1M42 97h1M66 97h1M68 97h1M71 97h1M73 97h1M52 98h4M57 98h3" stroke="#000" stroke-width="1" fill="none" stroke-opacity="0.9"/>
<path transform="translate(319 32.5)" d="M65 50h1M57 51h1M59 53h1M61 54h1M60 55h1M62 55h1M55 57h1M57 57h1M54 58h1M59 58h1M68 58h1M53 59h2M56 59h1M58 59h1M67 59h1M53 60h1M57 60h1M60 60h1M62 60h1M69 61h1M56 62h1M59 62h2M62 62h1M66 62h1M47 63h1M68 63h1M41 64h1M51 64h1M53 64h1M60 64h1M65 64h1M45 65h1M53 65h1M57 65h1M59 65h2M49 66h1M51 66h2M57 66h1M59 66h1M64 66h2M47 67h1M49 67h1M52 67h1M57 67h2M66 67h1M50 68h1M52 68h1M54 68h1M56 68h1M60 68h1M63 68h1M35 69h1M41 69h1M43 69h1M46 69h1M51 69h2M55 69h2M61 69h1M44 70h1M51 70h4M56 70h1M63 70h1M67 70h1M71 70h1M48 71h2M57 71h1M60 71h5M66 71h1M43 72h1M46 72h5M53 72h2M56 72h2M60 72h4M65 72h1M47 73h2M50 73h4M57 73h3M62 73h2M66 73h3M70 73h1M73 73h1M42 74h1M47 74h1M49 74h16M69 74h1M71 74h1M44 75h1M46 75h1M48 75h17M67 75h2M39 76h1M42 76h2M46 76h1M48 76h18M67 76h2M70 76h1M43 77h5M49 77h16M66 77h4M72 77h1M37 78h1M44 78h1M46 78h24M35 79h1M38 79h1M40 79h2M44 79h23M68 79h2M36 80h2M43 80h1M45 80h24M75 80h1M39 81h1M44 81h19M64 81h5M70 81h2M41 82h1M45 82h21M67 82h3M37 83h1M41 83h1M43 83h2M46 83h21M68 83h2M40 84h1M43 84h1M45 84h25M35 85h1M41 85h1M43 85h1M45 85h25M71 85h1M38 86h1M40 86h1M44 86h25M35 87h1M41 87h1M44 87h21M66 87h2M71 87h1M74 87h1M40 88h1M44 88h22M67 88h1M73 88h1M38 89h1M42 89h1M44 89h24M69 89h2M37 90h2M40 90h1M42 90h2M45 90h1M47 90h17M65 90h3M70 90h1M42 91h1M44 91h25M70 91h1M41 92h1M44 92h20M67 92h1M41 93h2M47 93h16M43 94h1M47 94h17M67 94h1M43 95h9M53 95h9M63 95h1M43 96h2M47 96h1M49 96h15M43 97h23M67 97h1M69 97h2M72 97h1M56 98h1" stroke="#000" stroke-width="1" fill="none" stroke-opacity="1"/>
<rect x="318.9" y="32.4" width="98.3" height="97.2" fill="none" stroke="#555" stroke-width=".7"/>
<path d="M350.3 32.4V129.6M318.9 99.2H417.2" stroke="#555" stroke-width=".7" fill="none"/>
<path d="M318.90 129.6v2M318.9 129.60h-2M326.30 129.6v1M318.9 122.28h-1M330.63 129.6v1M318.9 118.01h-1M333.70 129.6v1M318.9 114.97h-1M336.08 129.6v1M318.9 112.62h-1M338.02 129.6v1M318.9 110.69h-1M339.67 129.6v1M318.9 109.06h-1M341.09 129.6v1M318.9 107.65h-1M342.35 129.6v1M318.9 106.41h-1M343.47 129.6v2M318.9 105.30h-2M350.87 129.6v1M318.9 97.98h-1M355.20 129.6v1M318.9 93.71h-1M358.27 129.6v1M318.9 90.67h-1M360.65 129.6v1M318.9 88.32h-1M362.60 129.6v1M318.9 86.39h-1M364.24 129.6v1M318.9 84.76h-1M365.67 129.6v1M318.9 83.35h-1M366.93 129.6v1M318.9 82.11h-1M368.05 129.6v2M318.9 81.00h-2M375.45 129.6v1M318.9 73.68h-1M379.78 129.6v1M318.9 69.41h-1M382.85 129.6v1M318.9 66.37h-1M385.23 129.6v1M318.9 64.02h-1M387.17 129.6v1M318.9 62.09h-1M388.82 129.6v1M318.9 60.46h-1M390.24 129.6v1M318.9 59.05h-1M391.50 129.6v1M318.9 57.81h-1M392.62 129.6v2M318.9 56.70h-2M400.02 129.6v1M318.9 49.38h-1M404.35 129.6v1M318.9 45.11h-1M407.42 129.6v1M318.9 42.07h-1M409.80 129.6v1M318.9 39.72h-1M411.75 129.6v1M318.9 37.79h-1M413.39 129.6v1M318.9 36.16h-1M414.82 129.6v1M318.9 34.75h-1M416.08 129.6v1M318.9 33.51h-1M417.20 129.6v2M318.9 32.40h-2" stroke="#333" stroke-width=".6" fill="none"/>
<path d="M318.9 32.4V129.6H417.2" stroke="#222" stroke-width="1" fill="none"/>
<text x="319.9" y="140.3" font-size="5.8" text-anchor="middle" fill="#222">10<tspan dy="-2.3" font-size="5.10">0</tspan></text>
<text x="315.2" y="132.4" font-size="6.0" text-anchor="end" fill="#222">10<tspan dy="-2.3" font-size="5.28">0</tspan></text>
<text x="344.5" y="140.3" font-size="5.8" text-anchor="middle" fill="#222">10<tspan dy="-2.3" font-size="5.10">1</tspan></text>
<text x="315.2" y="108.1" font-size="6.0" text-anchor="end" fill="#222">10<tspan dy="-2.3" font-size="5.28">1</tspan></text>
<text x="369.0" y="140.3" font-size="5.8" text-anchor="middle" fill="#222">10<tspan dy="-2.3" font-size="5.10">2</tspan></text>
<text x="315.2" y="83.8" font-size="6.0" text-anchor="end" fill="#222">10<tspan dy="-2.3" font-size="5.28">2</tspan></text>
<text x="393.6" y="140.3" font-size="5.8" text-anchor="middle" fill="#222">10<tspan dy="-2.3" font-size="5.10">3</tspan></text>
<text x="315.2" y="59.5" font-size="6.0" text-anchor="end" fill="#222">10<tspan dy="-2.3" font-size="5.28">3</tspan></text>
<text x="418.2" y="140.3" font-size="5.8" text-anchor="middle" fill="#222">10<tspan dy="-2.3" font-size="5.10">4</tspan></text>
<text x="315.2" y="35.2" font-size="6.0" text-anchor="end" fill="#222">10<tspan dy="-2.3" font-size="5.28">4</tspan></text>
<text x="368.0" y="146.6" font-size="5.9" text-anchor="middle" fill="#2a2a2a">FL4-H</text>
<text transform="translate(303.6 81.0) rotate(-90)" font-size="5.9" text-anchor="middle" fill="#2a2a2a">FL2-H</text>
<text x="321.2" y="39.4" font-size="6.0" fill="#222">0.054</text>
<rect x="320.7" y="122.5" width="13.3" height="6.5" fill="#fff"/>
<text x="321.5" y="128.2" font-size="6.1" fill="#222">2.39</text>
<text x="416.0" y="128.1" font-size="6.0" fill="#222" text-anchor="end">93.2</text>
</g>
<g id="P4">
<rect x="58.5" y="168.8" width="97.9" height="97.8" fill="#fcfcfc"/>
<path transform="translate(58 169.5)" d="M25 41h1M24 42h1M2 43h1M4 43h1M6 43h1M10 43h1M1 44h1M7 44h2M12 44h2M16 44h3M20 44h2M23 44h2M25 45h1M1 46h1M26 46h1M26 48h1M28 48h1M28 51h1M26 53h1M29 55h1M28 57h1M27 58h1M29 59h1M28 60h1M28 62h1M27 64h1M20 65h1M1 66h1M28 66h1M13 67h1M21 67h2M26 67h1M1 68h1M6 68h1M16 68h1M19 68h3M23 68h1M27 68h1M17 69h1M22 69h1M5 70h1M17 70h1M23 70h1M27 70h1M0 71h1M4 71h2M9 71h1M11 71h1M16 71h1M19 71h1M22 71h1M24 71h1M2 72h2M6 72h1M11 72h2M23 72h1M25 72h1M0 73h1M4 73h1M6 73h1M8 73h1M13 73h2M19 73h1M26 73h1M1 74h1M5 74h1M10 74h2M13 74h1M16 74h1M21 74h2M6 75h1M11 75h1M18 75h3M25 75h1M1 76h1M4 77h1M13 77h1M20 77h1M23 77h1M5 78h1M8 78h2M23 78h1M2 79h1M14 79h1M18 79h1M21 79h2M25 79h2M3 80h1M8 80h1M11 80h1M16 80h1M18 80h1M24 80h1M11 81h1M13 81h1M15 81h1M21 81h3M27 81h1M18 82h1M20 82h1M23 82h1M26 82h1M14 83h1M19 83h1M21 83h1M24 83h1M8 84h1M11 84h1M17 84h1M5 85h1M12 85h1M14 85h1M16 85h1M21 85h1M23 85h1M25 85h1M3 86h1M10 86h2M17 86h1M21 86h1M7 87h1M14 87h1M22 87h1M24 87h1M1 88h1M20 88h1M25 88h1M27 88h2M2 89h1M6 89h2M9 89h1M13 89h1M16 89h1M20 89h1M24 89h1M1 90h2M4 90h2M7 90h1M14 90h1M16 90h1M20 90h1M22 90h1M24 90h1M28 90h1M7 91h1M9 91h1M11 91h2M14 91h1M16 91h1M21 91h1M23 91h1M1 92h1M3 92h1M5 92h1M7 92h1M12 92h1M15 92h1M17 92h1M20 92h1M24 92h1M26 92h1M1 93h1M3 93h2M6 93h1M9 93h2M13 93h1M17 93h1M20 93h3M27 93h1M5 94h1M8 94h1M10 94h1M15 94h1M17 94h1M19 94h1M22 94h1M6 95h1M8 95h1M11 95h1M16 95h1M20 95h1M22 95h1M9 96h1M15 96h1M17 96h1M7 97h1" stroke="#000" stroke-width="1" fill="none" stroke-opacity="0.4"/>
<path transform="translate(58 169.5)" d="M5 40h1M9 40h1M25 40h1M1 41h1M9 41h1M26 41h1M2 42h1M4 42h1M23 42h1M5 43h1M7 43h1M13 43h1M17 43h1M19 43h1M0 44h1M5 44h1M28 44h1M1 45h2M16 45h1M23 45h1M5 46h1M10 46h1M2 47h1M9 47h1M27 47h2M29 48h3M28 49h1M27 50h2M0 51h1M22 51h1M30 51h1M39 51h1M1 52h1M26 52h1M30 52h1M2 53h1M27 53h1M26 54h1M34 54h1M27 55h1M0 56h1M29 56h1M24 58h3M36 58h1M27 59h1M1 60h1M25 61h1M30 61h1M32 61h1M9 62h1M21 62h2M30 62h1M2 63h1M4 63h1M9 63h1M22 63h1M26 63h1M20 64h1M31 64h1M21 65h1M7 66h1M11 66h1M13 66h1M25 66h1M1 67h2M4 67h1M16 67h1M9 68h1M14 68h1M7 69h1M12 69h1M26 69h1M0 70h1M2 70h1M20 70h1M23 71h1M40 71h1M9 72h1M27 72h1M23 73h1M3 74h1M14 74h1M19 74h1M27 74h1M1 75h1M10 75h1M15 75h1M2 76h1M9 76h1M15 76h1M33 76h1M38 76h1M14 77h1M21 77h1M25 77h1M0 78h1M15 78h1M28 78h1M1 79h1M3 79h2M11 79h1M13 79h1M17 79h1M1 80h1M17 80h1M19 80h1M22 80h1M1 81h1M5 81h1M6 82h1M13 82h1M21 82h1M5 83h1M10 83h1M12 83h1M27 83h1M12 84h1M14 84h2M37 84h1M2 85h1M4 85h1M6 85h1M13 85h1M27 85h1M8 86h1M12 86h1M11 87h1M17 87h1M19 87h1M21 87h1M4 88h1M13 88h2M1 89h1M22 89h1M23 90h1M27 90h1M2 92h1M4 92h1M16 93h1M1 94h1M4 94h1M16 94h1M24 94h1M27 94h1M5 95h1M15 95h1M17 95h1M19 95h1M4 96h1M6 96h1M19 96h2M2 97h1M9 97h1M13 97h1M24 97h1" stroke="#000" stroke-width="1" fill="none" stroke-opacity="0.8"/>
<path transform="translate(58 169.5)" d="M3 43h1M9 43h1M12 43h1M14 43h2M22 43h2M25 43h1M3 44h1M10 44h1M14 44h1M19 44h1M25 44h3M5 45h4M12 45h2M20 45h1M27 45h1M6 46h4M24 46h1M0 47h2M5 47h1M25 47h2M0 48h1M13 48h1M16 48h2M0 49h1M6 49h1M17 49h1M27 49h1M1 50h1M5 50h1M15 50h1M1 51h1M15 51h1M25 52h1M27 52h1M32 52h1M25 53h1M1 54h1M27 54h2M14 55h1M2 56h1M28 56h1M1 57h1M27 57h1M1 58h1M4 58h1M11 58h1M29 58h1M0 59h2M24 59h1M0 60h1M3 60h1M25 60h1M0 61h1M23 61h1M27 61h1M0 62h1M2 62h1M4 62h1M10 62h1M26 62h2M29 62h1M11 63h1M23 63h1M29 63h1M9 64h1M26 64h1M0 65h1M2 65h4M10 65h1M18 65h2M27 65h1M5 66h1M8 66h1M12 66h1M26 66h2M3 67h1M6 67h2M9 67h2M12 67h1M19 67h1M23 67h3M4 68h1M7 68h2M10 68h1M15 68h1M17 68h2M25 68h1M1 69h1M5 69h2M10 69h1M13 69h2M16 69h1M18 69h2M24 69h1M1 70h1M4 70h1M6 70h3M10 70h3M15 70h1M18 70h1M21 70h2M25 70h1M8 71h1M13 71h1M25 71h2M5 72h1M7 72h2M13 72h1M16 72h1M20 72h3M1 73h2M10 73h1M15 73h3M21 73h1M25 73h1M2 74h1M7 74h3M18 74h1M20 74h1M26 74h1M2 75h1M5 75h1M17 75h1M22 75h1M26 75h1M4 76h1M11 76h1M17 76h1M20 76h6M1 77h2M11 77h1M15 77h1M18 77h2M26 77h1M1 78h3M19 78h2M25 78h1M10 79h1M15 79h1M24 79h1M5 80h2M9 80h1M12 80h3M21 80h1M23 80h1M25 80h1M27 80h1M2 81h3M6 81h2M20 81h1M25 81h1M2 82h3M8 82h1M12 82h1M15 82h2M19 82h1M24 82h2M3 83h1M6 83h1M9 83h1M16 83h1M22 83h2M25 83h1M4 84h4M9 84h2M18 84h1M20 84h4M25 84h1M9 85h2M15 85h1M18 85h2M22 85h1M24 85h1M1 86h1M4 86h2M9 86h1M14 86h1M16 86h1M18 86h1M20 86h1M22 86h1M25 86h1M1 87h3M5 87h1M8 87h2M15 87h2M23 87h1M25 87h3M5 88h2M8 88h3M15 88h3M3 89h2M8 89h1M19 89h1M21 89h1M25 89h1M27 89h1M3 90h1M9 90h1M15 90h1M17 90h3M3 91h4M10 91h1M13 91h1M17 91h4M24 91h1M8 92h2M14 92h1M19 92h1M22 92h2M25 92h1M5 93h1M8 93h1M11 93h2M15 93h1M19 93h1M23 93h1M2 94h2M6 94h2M9 94h1M12 94h3M18 94h1M20 94h1M25 94h2M13 95h2M23 95h2M26 95h1M7 96h1M23 96h3" stroke="#000" stroke-width="1" fill="none" stroke-opacity="0.9"/>
<path transform="translate(58 169.5)" d="M25 42h1M11 43h1M24 43h1M2 44h1M4 44h1M6 44h1M9 44h1M11 44h1M15 44h1M22 44h1M3 45h2M9 45h3M14 45h2M17 45h3M21 45h2M26 45h1M2 46h3M11 46h13M25 46h1M3 47h2M6 47h3M10 47h15M1 48h12M14 48h2M18 48h8M1 49h5M7 49h10M18 49h9M0 50h1M2 50h3M6 50h9M16 50h11M2 51h13M16 51h6M23 51h5M0 52h1M2 52h23M0 53h2M3 53h22M0 54h1M2 54h24M0 55h14M15 55h12M28 55h1M1 56h1M3 56h25M0 57h1M2 57h25M0 58h1M2 58h2M5 58h6M12 58h12M28 58h1M2 59h22M25 59h2M28 59h1M2 60h1M4 60h21M26 60h2M1 61h22M24 61h1M26 61h1M1 62h1M3 62h1M5 62h4M11 62h10M23 62h3M0 63h2M3 63h1M5 63h4M10 63h1M12 63h10M24 63h2M27 63h2M0 64h9M10 64h10M21 64h5M1 65h1M6 65h4M11 65h7M22 65h5M2 66h3M6 66h1M9 66h2M14 66h11M29 66h1M5 67h1M8 67h1M11 67h1M14 67h2M17 67h2M20 67h1M2 68h2M5 68h1M11 68h3M24 68h1M26 68h1M2 69h3M8 69h2M11 69h1M15 69h1M20 69h2M25 69h1M27 69h1M3 70h1M9 70h1M13 70h2M16 70h1M19 70h1M24 70h1M26 70h1M1 71h3M6 71h2M10 71h1M12 71h1M14 71h2M18 71h1M20 71h2M0 72h2M4 72h1M10 72h1M14 72h2M26 72h1M5 73h1M9 73h1M11 73h2M20 73h1M22 73h1M6 74h1M12 74h1M17 74h1M25 74h1M12 75h1M21 75h1M5 76h1M12 76h1M18 76h2M26 76h1M5 77h1M12 77h1M24 77h1M4 78h1M24 78h1M26 78h1M5 79h1M8 79h2M19 79h2M23 79h1M4 80h1M10 80h1M15 80h1M20 80h1M26 80h1M12 81h1M18 81h2M24 81h1M26 81h1M5 82h1M7 82h1M22 82h1M4 83h1M7 83h2M15 83h1M16 84h1M19 84h1M24 84h1M11 85h1M20 85h1M2 86h1M15 86h1M19 86h1M23 86h2M4 87h1M10 87h1M18 87h1M2 88h2M7 88h1M18 88h2M24 88h1M5 89h1M17 89h2M28 89h1M6 90h1M8 90h1M12 90h2M21 90h1M1 91h2M8 91h1M15 91h1M10 92h2M18 92h1M21 92h1M2 93h1M7 93h1M14 93h1M18 93h1M24 93h3M11 94h1M23 94h1M7 95h1M12 95h1M25 95h1M8 96h1M16 96h1M22 96h1M8 97h1M16 97h1" stroke="#000" stroke-width="1" fill="none" stroke-opacity="1"/>
<rect x="58.5" y="168.8" width="97.9" height="97.8" fill="none" stroke="#555" stroke-width=".7"/>
<path d="M84.5 168.8V266.6M58.5 237.4H156.4" stroke="#555" stroke-width=".7" fill="none"/>
<path d="M58.50 266.6v2M58.5 266.60h-2M65.87 266.6v1M58.5 259.24h-1M70.18 266.6v1M58.5 254.93h-1M73.24 266.6v1M58.5 251.88h-1M75.61 266.6v1M58.5 249.51h-1M77.55 266.6v1M58.5 247.57h-1M79.18 266.6v1M58.5 245.94h-1M80.60 266.6v1M58.5 244.52h-1M81.86 266.6v1M58.5 243.27h-1M82.97 266.6v2M58.5 242.15h-2M90.34 266.6v1M58.5 234.79h-1M94.65 266.6v1M58.5 230.48h-1M97.71 266.6v1M58.5 227.43h-1M100.08 266.6v1M58.5 225.06h-1M102.02 266.6v1M58.5 223.12h-1M103.66 266.6v1M58.5 221.49h-1M105.08 266.6v1M58.5 220.07h-1M106.33 266.6v1M58.5 218.82h-1M107.45 266.6v2M58.5 217.70h-2M114.82 266.6v1M58.5 210.34h-1M119.13 266.6v1M58.5 206.03h-1M122.19 266.6v1M58.5 202.98h-1M124.56 266.6v1M58.5 200.61h-1M126.50 266.6v1M58.5 198.67h-1M128.13 266.6v1M58.5 197.04h-1M129.55 266.6v1M58.5 195.62h-1M130.81 266.6v1M58.5 194.37h-1M131.93 266.6v2M58.5 193.25h-2M139.29 266.6v1M58.5 185.89h-1M143.60 266.6v1M58.5 181.58h-1M146.66 266.6v1M58.5 178.53h-1M149.03 266.6v1M58.5 176.16h-1M150.97 266.6v1M58.5 174.22h-1M152.61 266.6v1M58.5 172.59h-1M154.03 266.6v1M58.5 171.17h-1M155.28 266.6v1M58.5 169.92h-1M156.40 266.6v2M58.5 168.80h-2" stroke="#333" stroke-width=".6" fill="none"/>
<path d="M58.5 168.8V266.6H156.4" stroke="#222" stroke-width="1" fill="none"/>
<text x="59.5" y="277.3" font-size="5.8" text-anchor="middle" fill="#222">10<tspan dy="-2.3" font-size="5.10">0</tspan></text>
<text x="54.8" y="269.4" font-size="6.0" text-anchor="end" fill="#222">10<tspan dy="-2.3" font-size="5.28">0</tspan></text>
<text x="84.0" y="277.3" font-size="5.8" text-anchor="middle" fill="#222">10<tspan dy="-2.3" font-size="5.10">1</tspan></text>
<text x="54.8" y="245.0" font-size="6.0" text-anchor="end" fill="#222">10<tspan dy="-2.3" font-size="5.28">1</tspan></text>
<text x="108.5" y="277.3" font-size="5.8" text-anchor="middle" fill="#222">10<tspan dy="-2.3" font-size="5.10">2</tspan></text>
<text x="54.8" y="220.5" font-size="6.0" text-anchor="end" fill="#222">10<tspan dy="-2.3" font-size="5.28">2</tspan></text>
<text x="132.9" y="277.3" font-size="5.8" text-anchor="middle" fill="#222">10<tspan dy="-2.3" font-size="5.10">3</tspan></text>
<text x="54.8" y="196.1" font-size="6.0" text-anchor="end" fill="#222">10<tspan dy="-2.3" font-size="5.28">3</tspan></text>
<text x="157.4" y="277.3" font-size="5.8" text-anchor="middle" fill="#222">10<tspan dy="-2.3" font-size="5.10">4</tspan></text>
<text x="54.8" y="171.6" font-size="6.0" text-anchor="end" fill="#222">10<tspan dy="-2.3" font-size="5.28">4</tspan></text>
<text x="107.5" y="283.6" font-size="5.9" text-anchor="middle" fill="#2a2a2a">FL4-H</text>
<text transform="translate(43.2 217.7) rotate(-90)" font-size="5.9" text-anchor="middle" fill="#2a2a2a">FL2-H</text>
<text x="60.8" y="175.8" font-size="6.0" fill="#222">73.4</text>
<text x="154.6" y="175.8" font-size="6.0" fill="#222" text-anchor="end">0.93</text>
<rect x="60.3" y="259.5" width="13.3" height="6.5" fill="#fff"/>
<text x="61.1" y="265.2" font-size="6.1" fill="#222">25.4</text>
<text x="155.2" y="265.1" font-size="6.0" fill="#222" text-anchor="end">0.28</text>
</g>
<g id="P5">
<rect x="186.6" y="168.8" width="97.7" height="97.8" fill="#fcfcfc"/>
<path transform="translate(187 169.5)" d="M15 58h1M14 59h1M10 60h1M15 60h1M17 60h1M10 61h1M12 61h1M14 61h1M16 61h1M18 61h1M13 62h1M15 62h1M17 62h1M10 63h1M22 63h1M9 64h1M12 64h2M16 64h1M24 64h1M2 65h1M4 65h1M9 65h1M11 65h1M13 65h1M18 65h1M20 65h1M22 65h1M0 66h2M10 66h2M13 66h1M15 66h1M21 66h1M23 66h1M26 66h1M7 67h1M16 67h1M22 67h2M28 69h1M28 70h1M30 70h1M28 71h1M28 77h1M28 78h1M29 80h1M29 85h1M29 89h1M28 91h1M28 92h1M29 94h1M28 96h1M28 97h1M0 98h4M5 98h2M10 98h2M14 98h1M16 98h1M19 98h3M23 98h3" stroke="#000" stroke-width="1" fill="none" stroke-opacity="0.4"/>
<path transform="translate(187 169.5)" d="M4 31h1M21 32h1M33 32h1M24 34h1M35 35h1M6 36h1M34 40h1M11 41h1M20 41h1M40 41h1M28 43h1M27 44h2M25 45h1M37 45h1M5 46h1M2 47h1M10 47h1M13 47h1M38 47h1M42 47h1M13 48h1M16 48h1M4 49h1M10 49h1M23 49h1M28 49h1M44 49h1M4 50h1M17 50h1M8 51h2M9 52h1M14 52h1M18 52h1M7 53h1M18 53h1M21 53h1M3 54h1M11 54h1M26 54h1M11 55h1M26 55h1M7 56h2M12 56h1M28 56h1M39 56h1M0 57h1M15 57h1M18 57h1M45 57h1M1 58h1M3 58h1M7 58h1M16 58h1M29 58h1M9 59h1M15 59h1M24 59h1M30 59h1M4 60h2M8 60h1M14 60h1M16 60h1M18 60h3M0 61h1M3 61h1M9 61h1M13 61h1M25 61h1M29 61h1M31 61h1M33 61h1M0 62h1M21 62h2M4 63h1M7 63h1M15 63h2M21 63h1M23 63h1M2 64h2M18 64h1M20 64h1M23 64h1M25 64h1M8 65h1M10 65h1M14 65h1M21 65h1M23 65h1M30 65h1M34 65h1M4 66h1M6 66h1M9 66h1M22 66h1M40 66h1M45 66h1M3 67h1M11 67h1M30 67h1M5 68h1M17 68h1M19 68h1M24 68h1M6 69h1M8 69h1M18 69h1M22 69h1M29 69h1M0 70h1M17 70h1M22 70h1M26 70h1M29 70h1M31 70h1M37 70h1M8 71h1M17 71h2M30 71h1M39 71h1M47 71h1M25 72h1M29 72h1M42 72h1M46 72h1M27 73h1M46 73h1M28 74h1M30 74h1M42 74h1M29 75h1M39 75h1M42 76h2M27 78h1M29 78h1M43 79h1M32 80h1M41 80h1M28 81h1M32 81h1M36 81h1M29 82h1M26 83h1M30 84h1M32 84h1M36 84h1M29 86h1M44 86h1M22 87h1M26 87h1M38 87h1M38 88h1M41 88h1M4 89h1M29 90h1M31 90h1M37 90h1M43 90h1M2 91h1M30 91h1M46 91h1M1 92h1M25 92h1M2 93h1M30 94h1M42 95h1M12 96h1M21 96h1M7 98h3M15 98h1" stroke="#000" stroke-width="1" fill="none" stroke-opacity="0.8"/>
<path transform="translate(187 169.5)" d="M14 58h1M11 60h3M15 61h1M8 63h1M14 63h1M17 63h1M14 64h1M21 64h1M0 65h2M3 65h1M5 65h1M19 65h1M24 65h1M3 66h1M14 66h1M16 66h1M18 66h1M20 66h1M24 66h2M0 67h1M8 67h2M12 67h2M18 67h1M20 67h2M24 67h1M0 68h1M2 68h3M7 68h2M13 68h2M20 68h2M25 68h3M1 69h3M5 69h1M17 69h1M20 69h2M7 70h1M20 70h1M6 71h1M25 71h2M29 71h1M27 72h2M10 73h1M24 74h1M2 75h1M5 75h1M25 76h2M28 76h1M26 79h2M28 80h1M30 81h1M27 83h1M29 83h1M29 84h1M27 85h2M26 86h3M3 87h1M21 87h1M28 87h1M1 88h1M4 88h1M26 88h2M5 89h1M27 89h1M28 90h1M2 92h2M1 93h1M27 93h1M29 93h1M9 94h1M28 94h1M23 95h1M26 95h1M29 95h1M8 96h1M17 96h1M20 96h1M26 96h2M29 96h1M10 97h1M12 97h2M17 97h2M27 97h1M29 97h1" stroke="#000" stroke-width="1" fill="none" stroke-opacity="0.9"/>
<path transform="translate(187 169.5)" d="M0 58h1M9 60h1M11 61h1M17 61h1M9 63h1M13 63h1M10 64h1M17 64h1M12 65h1M2 66h1M5 66h1M12 66h1M19 66h1M1 67h2M4 67h3M10 67h1M14 67h2M19 67h1M25 67h2M1 68h1M6 68h1M9 68h4M15 68h2M18 68h1M22 68h2M0 69h1M4 69h1M7 69h1M9 69h8M19 69h1M23 69h5M1 70h6M8 70h9M18 70h2M21 70h1M23 70h3M27 70h1M0 71h6M7 71h1M9 71h8M19 71h6M27 71h1M0 72h25M26 72h1M0 73h10M11 73h16M0 74h24M25 74h3M0 75h2M3 75h2M6 75h23M0 76h25M27 76h1M0 77h28M0 78h27M0 79h26M28 79h1M0 80h28M0 81h28M29 81h1M0 82h29M0 83h26M28 83h1M0 84h29M0 85h27M0 86h26M0 87h3M4 87h17M23 87h3M27 87h1M0 88h1M2 88h2M5 88h21M28 88h1M0 89h4M6 89h21M28 89h1M0 90h28M0 91h2M3 91h25M0 92h1M4 92h21M26 92h2M0 93h1M3 93h24M28 93h1M0 94h9M10 94h18M0 95h23M24 95h2M27 95h2M0 96h8M9 96h3M13 96h4M18 96h2M22 96h4M0 97h10M11 97h1M14 97h3M19 97h8" stroke="#000" stroke-width="1" fill="none" stroke-opacity="1"/>
<rect x="186.6" y="168.8" width="97.7" height="97.8" fill="none" stroke="#555" stroke-width=".7"/>
<path d="M211.3 168.8V266.6M186.6 237.5H284.3" stroke="#555" stroke-width=".7" fill="none"/>
<path d="M186.60 266.6v2M186.6 266.60h-2M193.95 266.6v1M186.6 259.24h-1M198.25 266.6v1M186.6 254.93h-1M201.31 266.6v1M186.6 251.88h-1M203.67 266.6v1M186.6 249.51h-1M205.61 266.6v1M186.6 247.57h-1M207.24 266.6v1M186.6 245.94h-1M208.66 266.6v1M186.6 244.52h-1M209.91 266.6v1M186.6 243.27h-1M211.03 266.6v2M186.6 242.15h-2M218.38 266.6v1M186.6 234.79h-1M222.68 266.6v1M186.6 230.48h-1M225.73 266.6v1M186.6 227.43h-1M228.10 266.6v1M186.6 225.06h-1M230.03 266.6v1M186.6 223.12h-1M231.67 266.6v1M186.6 221.49h-1M233.08 266.6v1M186.6 220.07h-1M234.33 266.6v1M186.6 218.82h-1M235.45 266.6v2M186.6 217.70h-2M242.80 266.6v1M186.6 210.34h-1M247.10 266.6v1M186.6 206.03h-1M250.16 266.6v1M186.6 202.98h-1M252.52 266.6v1M186.6 200.61h-1M254.46 266.6v1M186.6 198.67h-1M256.09 266.6v1M186.6 197.04h-1M257.51 266.6v1M186.6 195.62h-1M258.76 266.6v1M186.6 194.37h-1M259.88 266.6v2M186.6 193.25h-2M267.23 266.6v1M186.6 185.89h-1M271.53 266.6v1M186.6 181.58h-1M274.58 266.6v1M186.6 178.53h-1M276.95 266.6v1M186.6 176.16h-1M278.88 266.6v1M186.6 174.22h-1M280.52 266.6v1M186.6 172.59h-1M281.93 266.6v1M186.6 171.17h-1M283.18 266.6v1M186.6 169.92h-1M284.30 266.6v2M186.6 168.80h-2" stroke="#333" stroke-width=".6" fill="none"/>
<path d="M186.6 168.8V266.6H284.3" stroke="#222" stroke-width="1" fill="none"/>
<text x="187.6" y="277.3" font-size="5.8" text-anchor="middle" fill="#222">10<tspan dy="-2.3" font-size="5.10">0</tspan></text>
<text x="182.9" y="269.4" font-size="6.0" text-anchor="end" fill="#222">10<tspan dy="-2.3" font-size="5.28">0</tspan></text>
<text x="212.0" y="277.3" font-size="5.8" text-anchor="middle" fill="#222">10<tspan dy="-2.3" font-size="5.10">1</tspan></text>
<text x="182.9" y="245.0" font-size="6.0" text-anchor="end" fill="#222">10<tspan dy="-2.3" font-size="5.28">1</tspan></text>
<text x="236.4" y="277.3" font-size="5.8" text-anchor="middle" fill="#222">10<tspan dy="-2.3" font-size="5.10">2</tspan></text>
<text x="182.9" y="220.5" font-size="6.0" text-anchor="end" fill="#222">10<tspan dy="-2.3" font-size="5.28">2</tspan></text>
<text x="260.9" y="277.3" font-size="5.8" text-anchor="middle" fill="#222">10<tspan dy="-2.3" font-size="5.10">3</tspan></text>
<text x="182.9" y="196.1" font-size="6.0" text-anchor="end" fill="#222">10<tspan dy="-2.3" font-size="5.28">3</tspan></text>
<text x="285.3" y="277.3" font-size="5.8" text-anchor="middle" fill="#222">10<tspan dy="-2.3" font-size="5.10">4</tspan></text>
<text x="182.9" y="171.6" font-size="6.0" text-anchor="end" fill="#222">10<tspan dy="-2.3" font-size="5.28">4</tspan></text>
<text x="235.4" y="283.6" font-size="5.9" text-anchor="middle" fill="#2a2a2a">FL4-H</text>
<text transform="translate(171.3 217.7) rotate(-90)" font-size="5.9" text-anchor="middle" fill="#2a2a2a">FL2-H</text>
<text x="188.9" y="175.8" font-size="6.0" fill="#222">1.62</text>
<text x="282.5" y="175.8" font-size="6.0" fill="#222" text-anchor="end">0.36</text>
<rect x="188.4" y="259.5" width="13.3" height="6.5" fill="#fff"/>
<text x="189.2" y="265.2" font-size="6.1" fill="#222">95.1</text>
<text x="283.1" y="265.1" font-size="6.0" fill="#222" text-anchor="end">2.9</text>
</g>
<g id="P6">
<rect x="320.0" y="168.8" width="97.5" height="97.7" fill="#fcfcfc"/>
<path transform="translate(320 169.5)" d="M46 45h1M45 46h1M47 47h1M45 48h1M55 48h1M46 49h1M46 51h2M43 52h1M45 52h1M45 53h1M43 54h2M44 57h1M46 57h1M47 59h1M49 59h1M49 63h1M44 64h1M48 64h1M51 64h1M54 64h1M56 64h1M45 65h1M44 66h1M52 66h1M54 66h1M43 68h1M43 69h1M55 69h1M58 69h1M39 70h1M55 70h1M40 71h1M42 71h1M58 71h1M13 72h1M14 73h1M20 73h1M29 73h1M59 73h1M30 74h1M39 74h1M60 74h1M10 75h1M29 75h1M37 75h1M39 75h1M59 75h1M12 76h1M34 76h1M58 76h2M61 76h1M8 77h1M12 78h1M32 78h1M35 78h1M37 78h2M59 78h1M14 79h1M27 79h1M34 79h1M13 80h1M20 80h1M33 80h1M19 81h1M27 81h1M31 81h1M37 81h1M59 81h1M19 82h1M26 82h1M34 82h1M18 83h1M31 83h1M60 83h1M12 84h1M19 84h2M22 84h2M26 84h1M28 84h1M61 84h1M11 85h1M21 85h1M26 85h1M29 85h1M33 85h1M36 85h1M59 85h1M15 86h2M22 86h1M25 86h1M27 86h1M30 86h1M34 86h2M38 86h1M17 87h1M27 87h1M32 87h1M37 87h1M62 87h1M15 88h1M34 88h2M60 88h1M23 89h1M25 89h1M33 89h2M60 89h1M25 90h1M35 90h1M59 90h1M30 91h1M34 91h3M23 92h1M32 92h1M56 92h1M17 93h1M22 93h1M30 93h1M35 93h1M58 93h1M18 94h1M36 94h1M38 94h3M17 95h1M24 95h1M40 95h1M59 95h1M19 96h1M23 96h1M36 96h1M40 97h1M36 98h1M41 98h1M57 98h1" stroke="#000" stroke-width="1" fill="none" stroke-opacity="0.4"/>
<path transform="translate(320 169.5)" d="M4 13h1M10 13h1M9 15h1M4 17h1M17 18h1M21 19h1M21 20h1M10 25h1M26 26h1M40 26h1M24 29h1M63 29h1M4 31h1M8 32h1M17 33h1M51 33h1M4 34h1M22 34h1M57 34h1M13 35h1M49 36h1M59 36h1M51 37h1M5 38h1M44 40h1M52 40h1M55 40h1M57 40h1M45 41h2M50 41h1M54 41h1M58 41h1M63 41h1M39 42h1M44 42h1M46 42h1M52 42h1M24 43h2M47 43h3M52 43h1M54 43h1M58 43h2M12 44h1M39 44h1M41 44h1M46 44h1M49 45h3M38 46h2M49 46h1M24 47h1M43 47h1M39 48h1M43 48h1M52 48h1M39 49h1M41 49h1M44 49h1M47 49h1M50 49h1M54 49h1M51 50h1M53 50h1M41 51h1M49 51h2M39 52h1M9 53h1M23 53h2M36 53h1M40 53h1M43 53h1M46 53h1M20 54h1M38 54h1M45 54h1M50 54h1M8 55h1M23 55h1M36 55h1M44 55h1M50 55h1M55 55h1M57 55h1M13 56h1M47 56h1M52 56h1M5 57h1M15 57h1M41 57h1M43 57h1M12 58h1M36 58h2M41 58h1M46 58h1M41 59h1M55 59h2M42 60h1M45 60h2M5 61h1M41 61h1M38 62h1M40 62h1M45 62h1M48 62h1M8 63h1M38 63h1M40 63h1M44 63h2M50 63h1M53 63h1M11 64h2M25 64h1M41 64h1M46 64h1M52 64h1M26 65h1M42 65h1M54 65h1M43 66h1M46 66h2M49 66h1M53 66h1M55 66h2M58 66h1M4 67h1M34 67h1M38 67h1M45 67h1M51 67h1M23 68h1M42 68h1M58 68h1M24 69h1M27 69h1M29 69h1M32 69h1M39 69h1M11 70h1M17 70h1M27 70h1M35 70h2M56 70h1M3 71h1M7 71h1M12 71h1M14 71h1M18 71h2M28 71h1M30 71h1M35 71h1M38 71h1M41 71h1M44 71h1M54 71h1M9 72h1M16 72h2M23 72h1M29 72h1M31 72h1M33 72h1M42 72h1M55 72h1M58 72h1M60 72h1M3 73h1M13 73h1M19 73h1M21 73h1M26 73h2M31 73h2M34 73h1M37 73h1M41 73h1M55 73h1M57 73h1M1 74h1M5 74h1M7 74h1M10 74h1M12 74h1M14 74h1M18 74h1M20 74h1M36 74h1M61 74h1M9 75h1M11 75h1M15 75h1M17 75h2M26 75h1M28 75h1M30 75h1M34 75h1M61 75h1M68 75h1M10 76h2M22 76h1M25 76h1M33 76h1M62 76h1M1 77h1M5 77h1M9 77h1M20 77h1M22 77h4M29 77h1M31 77h2M35 77h1M37 77h1M39 77h1M61 77h1M3 78h1M8 78h1M13 78h1M15 78h1M17 78h1M19 78h1M28 78h1M33 78h1M58 78h1M67 78h1M3 79h1M13 79h1M22 79h1M25 79h2M38 79h1M59 79h1M6 80h1M15 80h1M21 80h2M24 80h1M26 80h1M28 80h1M32 80h1M37 80h1M58 80h1M61 80h1M63 80h1M2 81h1M8 81h1M12 81h1M18 81h1M20 81h1M29 81h1M32 81h1M36 81h1M38 81h1M60 81h1M64 81h1M1 82h1M4 82h1M14 82h1M18 82h1M21 82h1M31 82h1M3 83h1M8 83h1M12 83h1M17 83h1M23 83h1M25 83h1M36 83h1M61 83h1M63 83h1M6 84h2M9 84h1M18 84h1M21 84h1M24 84h1M30 84h1M33 84h1M38 84h1M59 84h1M62 84h1M37 85h1M58 85h1M3 86h2M7 86h1M10 86h1M13 86h1M17 86h1M24 86h1M31 86h1M36 86h1M65 86h1M11 87h1M15 87h2M21 87h1M8 88h1M10 88h1M14 88h1M16 88h3M28 88h1M62 88h1M14 89h1M19 89h1M22 89h1M29 89h1M36 89h1M5 90h2M8 90h1M16 90h1M26 90h1M36 90h1M10 91h1M15 91h1M18 91h1M27 91h1M29 91h1M59 91h1M61 91h1M5 92h1M13 92h1M17 92h1M24 92h1M34 92h1M61 92h1M2 93h2M6 93h1M13 93h1M18 93h1M23 93h1M37 93h1M56 93h1M59 93h1M61 93h1M1 94h1M16 94h1M20 94h1M23 94h2M27 94h1M30 94h1M32 94h2M35 94h1M41 94h1M59 94h1M10 95h1M13 95h1M18 95h2M33 95h1M39 95h1M42 95h1M57 95h1M65 95h1M16 96h1M18 96h1M27 96h1M31 96h1M41 96h1M19 97h3M27 97h1M39 97h1M61 97h1M64 97h1M42 98h2M53 98h1M55 98h2" stroke="#000" stroke-width="1" fill="none" stroke-opacity="0.8"/>
<path transform="translate(320 169.5)" d="M42 45h1M53 45h1M48 46h1M46 47h1M56 49h1M45 50h1M47 50h1M42 51h1M46 52h1M44 53h1M43 56h1M45 58h1M50 58h1M47 63h1M55 63h1M47 64h1M50 64h1M46 65h1M48 65h1M52 65h1M55 65h1M50 66h1M43 67h1M47 67h1M50 67h1M52 67h2M44 68h2M48 68h1M53 68h2M56 68h2M3 69h1M6 69h1M15 69h1M28 69h1M40 69h3M44 69h1M54 69h1M57 69h1M28 70h1M40 70h2M43 70h3M48 70h1M58 70h1M39 71h1M43 71h1M55 71h1M24 72h1M38 72h3M53 72h1M57 72h1M39 73h1M58 73h1M27 74h2M40 74h2M57 74h2M35 75h2M38 75h1M42 75h1M56 75h1M58 75h1M60 75h1M35 76h2M39 76h1M57 76h1M60 76h1M7 77h1M13 77h1M17 77h1M36 77h1M55 77h1M60 77h1M36 78h1M32 79h1M35 79h2M40 79h1M58 79h1M8 80h1M19 80h1M25 80h1M34 80h1M36 80h1M59 80h2M14 81h1M25 81h1M34 81h1M2 82h2M25 82h1M30 82h1M35 82h1M37 82h2M59 82h1M19 83h1M26 83h2M34 83h2M37 83h1M59 83h1M11 84h1M17 84h1M35 84h3M12 85h1M15 85h3M20 85h1M23 85h2M27 85h2M31 85h1M34 85h1M38 85h2M60 85h1M23 86h1M32 86h2M61 86h1M25 87h2M28 87h2M36 87h1M59 87h1M7 88h1M33 88h1M36 88h2M59 88h1M61 88h1M24 89h1M31 89h2M39 89h1M23 90h1M33 90h1M37 90h2M57 90h2M16 91h2M23 91h2M33 91h1M37 91h1M55 91h4M22 92h1M38 92h6M54 92h2M58 92h2M39 93h1M42 93h2M55 93h1M57 93h1M21 94h1M42 94h1M57 94h2M22 95h1M47 95h1M54 95h1M9 96h1M59 96h1M24 97h1M35 97h1M38 97h1M58 97h1M44 98h5M50 98h3M54 98h1" stroke="#000" stroke-width="1" fill="none" stroke-opacity="0.9"/>
<path transform="translate(320 169.5)" d="M46 46h2M45 47h1M56 48h1M45 49h1M46 50h1M44 52h1M47 52h1M43 55h1M45 57h1M48 59h1M46 63h1M56 63h1M45 64h1M49 64h1M55 64h1M41 65h1M47 65h1M49 65h3M45 66h1M48 66h1M51 66h1M44 67h1M46 67h1M48 67h2M46 68h2M49 68h4M45 69h9M56 69h1M42 70h1M46 70h2M49 70h6M57 70h1M45 71h9M56 71h2M14 72h1M41 72h1M43 72h10M54 72h1M56 72h1M40 73h1M42 73h13M56 73h1M15 74h1M21 74h1M29 74h1M42 74h15M59 74h1M40 75h2M43 75h13M57 75h1M40 76h17M12 77h1M40 77h15M56 77h4M39 78h19M33 79h1M37 79h1M39 79h1M41 79h17M14 80h1M27 80h1M35 80h1M38 80h20M26 81h1M30 81h1M35 81h1M39 81h20M36 82h1M39 82h20M28 83h1M38 83h21M27 84h1M31 84h1M34 84h1M39 84h20M60 84h1M22 85h1M40 85h18M26 86h1M28 86h2M39 86h22M33 87h3M38 87h21M60 87h2M25 88h1M32 88h1M38 88h21M35 89h1M37 89h2M40 89h20M24 90h1M31 90h2M34 90h1M39 90h18M31 91h2M38 91h17M30 92h2M35 92h3M44 92h10M57 92h1M36 93h1M38 93h1M40 93h2M44 93h11M17 94h1M22 94h1M43 94h14M23 95h1M41 95h1M43 95h4M48 95h6M55 95h2M58 95h1M42 96h17M36 97h2M41 97h17M49 98h1" stroke="#000" stroke-width="1" fill="none" stroke-opacity="1"/>
<rect x="320.0" y="168.8" width="97.5" height="97.7" fill="none" stroke="#555" stroke-width=".7"/>
<path d="M345.0 168.8V266.5M320.0 237.5H417.5" stroke="#555" stroke-width=".7" fill="none"/>
<path d="M320.00 266.5v2M320.0 266.50h-2M327.34 266.5v1M320.0 259.15h-1M331.63 266.5v1M320.0 254.85h-1M334.68 266.5v1M320.0 251.79h-1M337.04 266.5v1M320.0 249.43h-1M338.97 266.5v1M320.0 247.49h-1M340.60 266.5v1M320.0 245.86h-1M342.01 266.5v1M320.0 244.44h-1M343.26 266.5v1M320.0 243.19h-1M344.38 266.5v2M320.0 242.07h-2M351.71 266.5v1M320.0 234.72h-1M356.00 266.5v1M320.0 230.42h-1M359.05 266.5v1M320.0 227.37h-1M361.41 266.5v1M320.0 225.00h-1M363.34 266.5v1M320.0 223.07h-1M364.97 266.5v1M320.0 221.43h-1M366.39 266.5v1M320.0 220.02h-1M367.63 266.5v1M320.0 218.77h-1M368.75 266.5v2M320.0 217.65h-2M376.09 266.5v1M320.0 210.30h-1M380.38 266.5v1M320.0 206.00h-1M383.43 266.5v1M320.0 202.94h-1M385.79 266.5v1M320.0 200.58h-1M387.72 266.5v1M320.0 198.64h-1M389.35 266.5v1M320.0 197.01h-1M390.76 266.5v1M320.0 195.59h-1M392.01 266.5v1M320.0 194.34h-1M393.12 266.5v2M320.0 193.23h-2M400.46 266.5v1M320.0 185.87h-1M404.75 266.5v1M320.0 181.57h-1M407.80 266.5v1M320.0 178.52h-1M410.16 266.5v1M320.0 176.15h-1M412.09 266.5v1M320.0 174.22h-1M413.72 266.5v1M320.0 172.58h-1M415.14 266.5v1M320.0 171.17h-1M416.38 266.5v1M320.0 169.92h-1M417.50 266.5v2M320.0 168.80h-2" stroke="#333" stroke-width=".6" fill="none"/>
<path d="M320.0 168.8V266.5H417.5" stroke="#222" stroke-width="1" fill="none"/>
<text x="321.0" y="277.2" font-size="5.8" text-anchor="middle" fill="#222">10<tspan dy="-2.3" font-size="5.10">0</tspan></text>
<text x="316.3" y="269.3" font-size="6.0" text-anchor="end" fill="#222">10<tspan dy="-2.3" font-size="5.28">0</tspan></text>
<text x="345.4" y="277.2" font-size="5.8" text-anchor="middle" fill="#222">10<tspan dy="-2.3" font-size="5.10">1</tspan></text>
<text x="316.3" y="244.9" font-size="6.0" text-anchor="end" fill="#222">10<tspan dy="-2.3" font-size="5.28">1</tspan></text>
<text x="369.8" y="277.2" font-size="5.8" text-anchor="middle" fill="#222">10<tspan dy="-2.3" font-size="5.10">2</tspan></text>
<text x="316.3" y="220.5" font-size="6.0" text-anchor="end" fill="#222">10<tspan dy="-2.3" font-size="5.28">2</tspan></text>
<text x="394.1" y="277.2" font-size="5.8" text-anchor="middle" fill="#222">10<tspan dy="-2.3" font-size="5.10">3</tspan></text>
<text x="316.3" y="196.0" font-size="6.0" text-anchor="end" fill="#222">10<tspan dy="-2.3" font-size="5.28">3</tspan></text>
<text x="418.5" y="277.2" font-size="5.8" text-anchor="middle" fill="#222">10<tspan dy="-2.3" font-size="5.10">4</tspan></text>
<text x="316.3" y="171.6" font-size="6.0" text-anchor="end" fill="#222">10<tspan dy="-2.3" font-size="5.28">4</tspan></text>
<text x="368.8" y="283.5" font-size="5.9" text-anchor="middle" fill="#2a2a2a">FL4-H</text>
<text transform="translate(304.7 217.7) rotate(-90)" font-size="5.9" text-anchor="middle" fill="#2a2a2a">FL2-H</text>
<text x="322.3" y="175.8" font-size="6.0" fill="#222">0.36</text>
<rect x="321.8" y="259.4" width="13.3" height="6.5" fill="#fff"/>
<text x="322.6" y="265.1" font-size="6.1" fill="#222">2.08</text>
<text x="416.3" y="265.0" font-size="6.0" fill="#222" text-anchor="end">94.7</text>
</g>
<rect x="356.6" y="55" width="47.8" height="41.9" fill="none" stroke="#000" stroke-width="1.4"/>
<text x="378.6" y="53.9" font-size="12.7" text-anchor="middle" fill="#000" stroke="#000" stroke-width=".12">4%</text>
<rect x="351.7" y="192.9" width="48.1" height="41.6" fill="none" stroke="#000" stroke-width="1.4"/>
<text x="374.8" y="191.7" font-size="12.7" text-anchor="middle" fill="#000" stroke="#000" stroke-width=".12">3%</text>
<text x="110.8" y="9.6" font-size="11" text-anchor="middle" fill="#111">vector</text>
<text x="234.5" y="9.6" font-size="11" text-anchor="middle" fill="#111">vector + α2 WT</text>
<text x="361.5" y="9.6" font-size="11" text-anchor="middle" fill="#111">hGPVI + α2 WT</text>
<text x="425.8" y="64.2" font-size="11" fill="#111">GFP+,CD41+</text>
<text x="425.8" y="77.3" font-size="11" fill="#111">bone marrow cells</text>
<text x="425.8" y="220.2" font-size="11" fill="#111">GFP+</text>
<text x="425.8" y="233.6" font-size="11" fill="#111">circulating platelets</text>
<text x="2.4" y="150.5" font-size="13.5" fill="#111">α2</text>
<text x="239.8" y="316.5" font-size="12.9" text-anchor="middle" fill="#111">hGPVI</text>
<path d="M28.7 15V300.2H413" stroke="#000" stroke-width="1.7" fill="none" stroke-linejoin="round"/>
<path d="M28.6 11.2L32.5 18.6L28.6 16L24.7 18.6Z" fill="#000"/>
<path d="M417.5 300.2L410.1 304.1L412.8 300.2L410.1 296.3Z" fill="#000"/>
</svg></body></html>
